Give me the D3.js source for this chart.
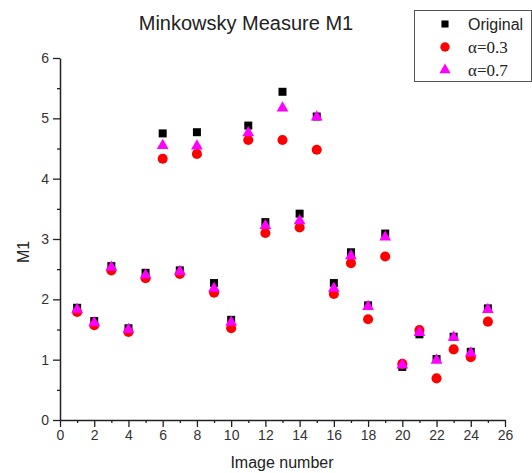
<!DOCTYPE html>
<html>
<head>
<meta charset="utf-8">
<script src="https://cdn.jsdelivr.net/npm/d3@7"></script>
<style>
  html, body { margin: 0; padding: 0; background: #fff; }
  svg { display: block; font-family: "Liberation Sans", Arial, sans-serif; }
  .tick text { fill: #333; font-size: 14px; font-family: "Liberation Sans", Arial, sans-serif; }
</style>
</head>
<body>
<svg id="chart" width="532" height="473"></svg>
<script>
// ---- data ----
var images = [1, 2, 3, 4, 5, 6, 7, 8, 9, 10, 11, 12, 13, 14, 15, 16, 17, 18, 19, 20, 21, 22, 23, 24, 25];
var original = [1.86, 1.64, 2.55, 1.52, 2.44, 4.75, 2.48, 4.77, 2.27, 1.66, 4.88, 3.28, 5.44, 3.42, 5.03, 2.27, 2.78, 1.90, 3.09, 0.88, 1.42, 1.01, 1.38, 1.13, 1.85];
var alpha03 = [1.79, 1.57, 2.48, 1.46, 2.35, 4.33, 2.42, 4.41, 2.11, 1.52, 4.64, 3.10, 4.64, 3.19, 4.48, 2.09, 2.60, 1.67, 2.71, 0.93, 1.49, 0.69, 1.17, 1.04, 1.63];
var alpha07 = [1.83, 1.61, 2.53, 1.50, 2.40, 4.55, 2.46, 4.54, 2.18, 1.62, 4.76, 3.22, 5.17, 3.30, 5.02, 2.18, 2.72, 1.88, 3.03, 0.91, 1.45, 0.99, 1.37, 1.11, 1.83];
var xTicks = [0, 2, 4, 6, 8, 10, 12, 14, 16, 18, 20, 22, 24, 26];
var yTicks = [0, 1, 2, 3, 4, 5, 6];
var seriesNames = ["Original", "α=0.3", "α=0.7"];

var svg = d3.select("#chart");
var x = d3.scaleLinear().domain([0, 26]).range([60, 505]);
var y = d3.scaleLinear().domain([0, 6]).range([420, 58]);

// ---- axes: minor ticks first, then major ----
function minor(axis, vals) {
  return axis.tickValues(vals).tickSize(3).tickFormat("");
}
function inkLines(g) { g.selectAll("line").attr("stroke", "#222").attr("stroke-width", 1.3); }

svg.append("g").attr("transform", "translate(0,420)")
  .call(minor(d3.axisBottom(x), d3.range(1, 26, 2)))
  .call(function (g) { g.select(".domain").remove(); inkLines(g); });
svg.append("g").attr("transform", "translate(60,0)")
  .call(minor(d3.axisLeft(y), d3.range(0.5, 6, 1)))
  .call(function (g) { g.select(".domain").remove(); inkLines(g); });

svg.append("g").attr("transform", "translate(0,420)")
  .call(d3.axisBottom(x).tickValues(xTicks).tickFormat(d3.format("d")).tickSize(7).tickSizeOuter(0).tickPadding(3))
  .call(function (g) { g.select(".domain").attr("stroke", "#222").attr("stroke-width", 1.5); inkLines(g); });
svg.append("g").attr("transform", "translate(60,0)")
  .call(d3.axisLeft(y).tickValues(yTicks).tickFormat(d3.format("d")).tickSize(7).tickSizeOuter(0).tickPadding(4))
  .call(function (g) { g.select(".domain").attr("stroke", "#222").attr("stroke-width", 1.5); inkLines(g); });

// ---- markers (square, then circle, triangle on top) ----
var sq = d3.symbol().type(d3.symbolSquare).size(64);
var ci = d3.symbol().type(d3.symbolCircle).size(80);
var tr = d3.symbol().type(d3.symbolTriangle).size(60);

svg.append("g").selectAll("path").data(images).join("path")
  .attr("d", sq).attr("fill", "#000")
  .attr("transform", function (d, i) { return "translate(" + x(d) + "," + y(original[i]) + ")"; });
svg.append("g").selectAll("path").data(images).join("path")
  .attr("d", ci).attr("fill", "#ff0000")
  .attr("transform", function (d, i) { return "translate(" + x(d) + "," + y(alpha03[i]) + ")"; });
svg.append("g").selectAll("path").data(images).join("path")
  .attr("d", tr).attr("fill", "#ff00ff")
  .attr("transform", function (d, i) { return "translate(" + x(d) + "," + y(alpha07[i]) + ")"; });

// ---- titles ----
svg.append("text").attr("x", 246).attr("y", 30).attr("text-anchor", "middle")
  .attr("font-size", 20).attr("fill", "#222").text("Minkowsky Measure M1");
svg.append("text").attr("x", 282).attr("y", 468).attr("text-anchor", "middle")
  .attr("font-size", 16).attr("fill", "#222").text("Image number");
svg.append("text").attr("transform", "translate(29,252) rotate(-90)").attr("text-anchor", "middle")
  .attr("font-size", 16).attr("fill", "#222").text("M1");

// ---- legend ----
var lg = svg.append("g");
lg.append("rect").attr("x", 414.5).attr("y", 10.5).attr("width", 117).attr("height", 71)
  .attr("fill", "#fff").attr("stroke", "#555").attr("stroke-width", 1);
var legSyms = [d3.symbol().type(d3.symbolSquare).size(50), d3.symbol().type(d3.symbolCircle).size(70), d3.symbol().type(d3.symbolTriangle).size(55)];
var legCols = ["#000", "#ff0000", "#ff00ff"];
seriesNames.forEach(function (name, i) {
  var cy = 24 + i * 23;
  lg.append("path").attr("d", legSyms[i]).attr("fill", legCols[i]).attr("transform", "translate(445," + cy + ")");
  lg.append("text").attr("x", 468).attr("y", cy + 5.5).attr("font-size", i === 0 ? 16 : 17)
    .attr("font-family", i === 0 ? "'Liberation Sans', Arial, sans-serif" : "'Liberation Serif', 'Times New Roman', serif")
    .attr("fill", "#222").text(name);
});
</script>
</body>
</html>
